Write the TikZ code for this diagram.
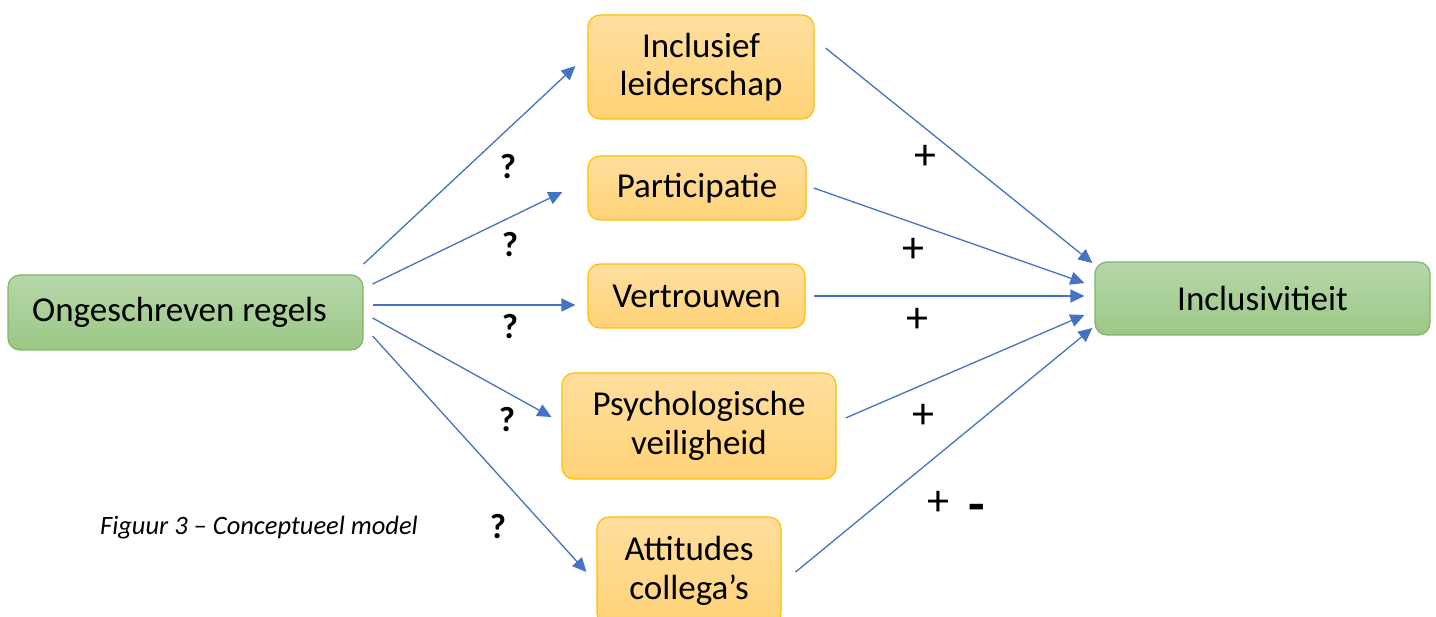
\documentclass[tikz,border=0pt]{standalone}
\usepackage{fontspec}
\setmainfont{Carlito}
\usetikzlibrary{arrows.meta}
\definecolor{arrowblue}{HTML}{4472C4}
\definecolor{orangetop}{HTML}{FFDF9E}
\definecolor{orangebot}{HTML}{FFD277}
\definecolor{orangeline}{HTML}{FFC000}
\definecolor{greentop}{HTML}{B7D7A9}
\definecolor{greenbot}{HTML}{9BC886}
\definecolor{greenline}{HTML}{82B366}
\tikzset{
  basebox/.style={rounded corners=12pt, line width=1.2pt, align=center,
    inner sep=0pt, font=\fontsize{35}{38.5}\selectfont},
  obox/.style={basebox, draw=orangeline, top color=orangetop, bottom color=orangebot},
  gbox/.style={basebox, draw=greenline, top color=greentop, bottom color=greenbot},
  link/.style={draw=arrowblue, line width=1.3pt,
    -{Triangle[length=14pt,width=13pt]}},
  qmark/.style={font=\fontsize{35}{35}\selectfont\bfseries},
  sign/.style={font=\fontsize{44}{44}\selectfont},
}
\begin{document}
\begin{tikzpicture}[x=1pt,y=-1pt]
\useasboundingbox (0,0) rectangle (1436,617);
\clip (0,0) rectangle (1436,617);

% boxes
\node[gbox, minimum width=355pt, minimum height=75pt] (o) at (185.5,312.5) {Ongeschreven regels\hspace*{12pt}};
\node[obox, minimum width=226pt, minimum height=104pt] (il) at (701,67) {Inclusief\\leiderschap};
\node[obox, minimum width=218pt, minimum height=64pt] (pa) at (697,188) {Participatie};
\node[obox, minimum width=217pt, minimum height=64pt] (ve) at (696.5,296) {Vertrouwen};
\node[obox, minimum width=274pt, minimum height=106pt] (ps) at (699,426) {Psychologische\\veiligheid};
\node[obox, minimum width=184pt, minimum height=108pt] (at) at (689,571) {Attitudes\\collega’s};
\node[gbox, minimum width=335pt, minimum height=73pt] (in) at (1262.5,298.5) {Inclusivitieit};

% arrows from the source to the mediators
\draw[link] ([shift={(0,-48.5)}]o.east) -- ([shift={(-12,-1)}]il.west);
\draw[link] ([shift={(9,-28.5)}]o.east) -- ([shift={(-25,4)}]pa.west);
\draw[link] ([shift={(9,-7.5)}]o.east) -- ([shift={(-12,9)}]ve.west);
\draw[link] ([shift={(9,5.5)}]o.east) -- ([shift={(-10,-9)}]ps.west);
\draw[link] ([shift={(9,23.5)}]o.east) -- ([shift={(-10,1)}]at.west);

% arrows from the mediators to the outcome
\draw[link] ([shift={(11,-19)}]il.east) -- ([shift={(-2,-35.5)}]in.west);
\draw[link] ([shift={(7,0)}]pa.east) -- ([shift={(-10,-15.5)}]in.west);
\draw[link] ([shift={(8,0)}]ve.east) -- ([shift={(-10,-2.5)}]in.west);
\draw[link] ([shift={(9,-8)}]ps.east) -- ([shift={(-10,16.5)}]in.west);
\draw[link] ([shift={(14,1)}]at.east) -- ([shift={(-2,29.5)}]in.west);

% question marks
\node[qmark] (q1) at (508,167) {?};
\node[qmark] (q2) at (510,245) {?};
\node[qmark] (q3) at (510,327) {?};
\node[qmark] (q4) at (507,420) {?};
\node[qmark] (q5) at (498,527) {?};

% signs
\node[sign] (s1) at (925,157) {+};
\node[sign] (s2) at (913,250) {+};
\node[sign] (s3) at (917,320) {+};
\node[sign] (s4) at (923,416) {+};
\node[sign] (s5) at (938,503) {+};
\node[font=\fontsize{54}{54}\selectfont\bfseries] (s6) at (977,513) {-};

% caption
\node[font=\fontsize{26.5}{26.5}\selectfont\itshape] (cap) at (259,528) {Figuur 3 – Conceptueel model};
\end{tikzpicture}
\end{document}
